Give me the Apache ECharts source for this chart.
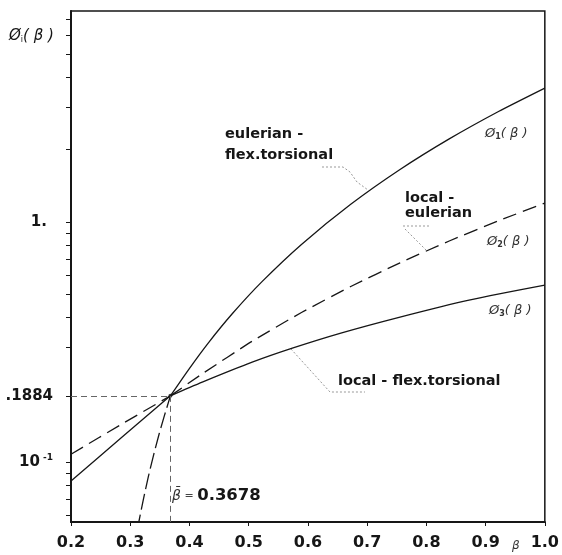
<!DOCTYPE html>
<html><head><meta charset="utf-8">
<script src="https://cdn.jsdelivr.net/npm/echarts@6/dist/echarts.min.js"></script>
<style>html,body{margin:0;padding:0;background:#fff}#c{width:562px;height:555px}</style>
</head><body><div id="c"></div>
<script>
// ---- data ----
const betaBar = 0.3678;
const phiBar = 0.1884;
const xTicks = [0.2, 0.3, 0.4, 0.5, 0.6, 0.7, 0.8, 0.9, 1.0];
const yLabelValues = [0.1, 0.1884, 1];
const yLabelTexts = ['{b|10}{sup| -1}', '{b|.1884}', '{b|1.}{pad| }'];
const yTickValues = [0.06, 0.07, 0.08, 0.09, 0.1, 0.1884, 0.3, 0.4, 0.5, 0.6, 0.7, 0.8, 0.9, 1, 2, 3, 4, 5, 6, 7];
// right of the intersection
const phi1 = [[0.3678,0.1884],[0.3977,0.2408],[0.4310,0.3111],[0.4726,0.4149],[0.5225,0.5634],[0.5891,0.8051],[0.6723,1.1828],[0.7555,1.6516],[0.8386,2.2153],[0.9218,2.8813],[1.0,3.6063]];
const phi2 = [[0.3678,0.1884],[0.4227,0.2337],[0.5059,0.3180],[0.5891,0.4189],[0.6723,0.5376],[0.7555,0.6748],[0.8386,0.8318],[0.9218,1.0096],[1.0,1.1965]];
const phi3 = [[0.3678,0.1884],[0.4227,0.2154],[0.5059,0.2602],[0.5724,0.2969],[0.6556,0.3438],[0.7555,0.4009],[0.8720,0.4718],[1.0,0.5449]];
// left of the intersection
const steepLeft = [[0.3128,0.0519],[0.3145,0.0562],[0.3305,0.0866],[0.3490,0.1313],[0.3678,0.1884]];
const solidLeft = [[0.2,0.0833],[0.2824,0.1246],[0.3678,0.1884]];
const dashedLeft = [[0.2,0.1076],[0.2824,0.1421],[0.3678,0.1884]];

const X_MIN = 0.2, X_MAX = 1.0, Y_MIN = 0.0562, Y_MAX = 7.55;

const ink = '#161616';
const solid = {color: ink, width: 1.3, type: 'solid'};
const dashed = {color: ink, width: 1.3, type: [14, 7]};
const steepDash = {color: ink, width: 1.3, type: [16, 5]};
const FONT = 'DejaVu Sans';

function line(name, data, ls) {
  return {name, type: 'line', data, showSymbol: false, symbol: 'none', smooth: 0.3,
    lineStyle: ls, silent: true, animation: false, z: 3};
}

const chart = echarts.init(document.getElementById('c'), null, {renderer: 'canvas'});
const annFont = {fontFamily: FONT, fontWeight: 'bold', fontSize: 14.5, fill: ink, verticalAlign: 'middle'};
const dotted = {stroke: '#999', lineWidth: 1, lineDash: [2, 2], fill: null};
const curveRich = {
  p: {fontFamily: FONT, fontStyle: 'italic', fontSize: 13, fill: '#333'},
  s: {fontFamily: FONT, fontWeight: 'bold', fontSize: 8, fill: '#333', verticalAlign: 'bottom', lineHeight: 10}
};
const option = {
  animation: false,
  backgroundColor: '#fff',
  grid: {left: 71, right: 15, top: 11, bottom: 33, show: true, borderColor: ink, borderWidth: 1.5, backgroundColor: 'transparent'},
  xAxis: {
    type: 'value', min: X_MIN, max: X_MAX, interval: 0.1,
    axisLine: {show: true, lineStyle: {color: ink, width: 2}},
    axisTick: {show: true, inside: false, length: 4, lineStyle: {color: ink, width: 1}},
    splitLine: {show: false},
    axisLabel: {margin: 13, color: ink, fontFamily: FONT, fontWeight: 'bold', fontSize: 16,
      formatter: v => v.toFixed(1), showMinLabel: true, showMaxLabel: true}
  },
  yAxis: {
    type: 'log', min: Y_MIN, max: Y_MAX, logBase: 10,
    axisLine: {show: true, lineStyle: {color: ink, width: 2}},
    axisTick: {show: true, inside: false, length: 5, customValues: yTickValues, lineStyle: {color: ink, width: 1}},
    minorTick: {show: false},
    splitLine: {show: false},
    axisLabel: {
      margin: 18, color: ink, customValues: yLabelValues,
      formatter: v => {
        for (let i = 0; i < yLabelValues.length; i++) {
          if (Math.abs(v - yLabelValues[i]) < 1e-6) return yLabelTexts[i];
        }
        return '';
      },
      rich: {
        b: {fontFamily: FONT, fontWeight: 'bold', fontSize: 15, color: ink, lineHeight: 18},
        sup: {fontFamily: FONT, fontWeight: 'bold', fontSize: 9, color: ink, verticalAlign: 'top', lineHeight: 18},
        pad: {fontSize: 15, width: 6}
      }
    }
  },
  series: [
    Object.assign(line('phi1', phi1, solid), {smooth: 0.2}),
    Object.assign(line('phi2', phi2, dashed), {smooth: 0.2}),
    Object.assign(line('phi3', phi3, solid), {
      markLine: {
        symbol: 'none', silent: true, animation: false,
        lineStyle: {color: '#666', type: [6, 4], width: 1},
        label: {show: false},
        data: [
          [{coord: [X_MIN, phiBar]}, {coord: [betaBar, phiBar]}],
          [{coord: [betaBar, phiBar]}, {coord: [betaBar, Y_MIN]}]
        ]
      }
    }),
    line('steepLeft', steepLeft, steepDash),
    line('solidLeft', solidLeft, solid),
    line('dashedLeft', dashedLeft, dashed),
    {type: 'scatter', data: [[betaBar, phiBar]], symbolSize: 4, itemStyle: {color: ink}, silent: true, z: 4}
  ],
  graphic: [
    // y-axis name
    {type: 'text', left: 9, top: 29, style: {
      text: '{p|Ø}{s|i}{p|( β )}',
      rich: {p: {fontFamily: FONT, fontStyle: 'italic', fontSize: 15, fill: ink}, s: {fontFamily: FONT, fontSize: 8, fill: ink, verticalAlign: 'bottom', lineHeight: 10}}
    }},
    // x-axis name
    {type: 'text', x: 512, y: 546, style: {text: 'β', fontFamily: FONT, fontStyle: 'italic', fontSize: 12, fill: '#333', verticalAlign: 'middle'}},
    // annotations
    {type: 'text', x: 225, y: 134, style: Object.assign({text: 'eulerian -'}, annFont)},
    {type: 'text', x: 225, y: 155, style: Object.assign({text: 'flex.torsional'}, annFont)},
    {type: 'polyline', shape: {points: [[322,167],[343,167],[350,172],[357,182],[368,190]]}, style: dotted},
    {type: 'text', x: 405, y: 198, style: Object.assign({text: 'local -'}, annFont)},
    {type: 'text', x: 405, y: 213, style: Object.assign({text: 'eulerian'}, annFont)},
    {type: 'polyline', shape: {points: [[403,226],[429,226]]}, style: dotted},
    {type: 'polyline', shape: {points: [[405,229],[426,250]]}, style: dotted},
    {type: 'text', x: 338, y: 381, style: Object.assign({text: 'local - flex.torsional'}, annFont)},
    {type: 'polyline', shape: {points: [[291,349],[330,392],[365,392]]}, style: dotted},
    // curve names
    {type: 'text', x: 485, y: 134, style: {text: '{p|Ø}{s|1}{p|( β )}', verticalAlign: 'middle', rich: curveRich}},
    {type: 'text', x: 487, y: 242, style: {text: '{p|Ø}{s|2}{p|( β )}', verticalAlign: 'middle', rich: curveRich}},
    {type: 'text', x: 489, y: 311, style: {text: '{p|Ø}{s|3}{p|( β )}', verticalAlign: 'middle', rich: curveRich}},
    // beta bar value
    {type: 'text', x: 172, y: 496, style: {text: '{i|β\u0304}{e| = }{v|0.3678}', verticalAlign: 'middle',
      rich: {i: {fontFamily: FONT, fontStyle: 'italic', fontSize: 14, fill: '#333'}, e: {fontFamily: FONT, fontSize: 11, fill: '#444'}, v: {fontFamily: FONT, fontWeight: 'bold', fontSize: 16.5, fill: ink}}}}
  ]
};
chart.setOption(option);
</script>
</body></html>
